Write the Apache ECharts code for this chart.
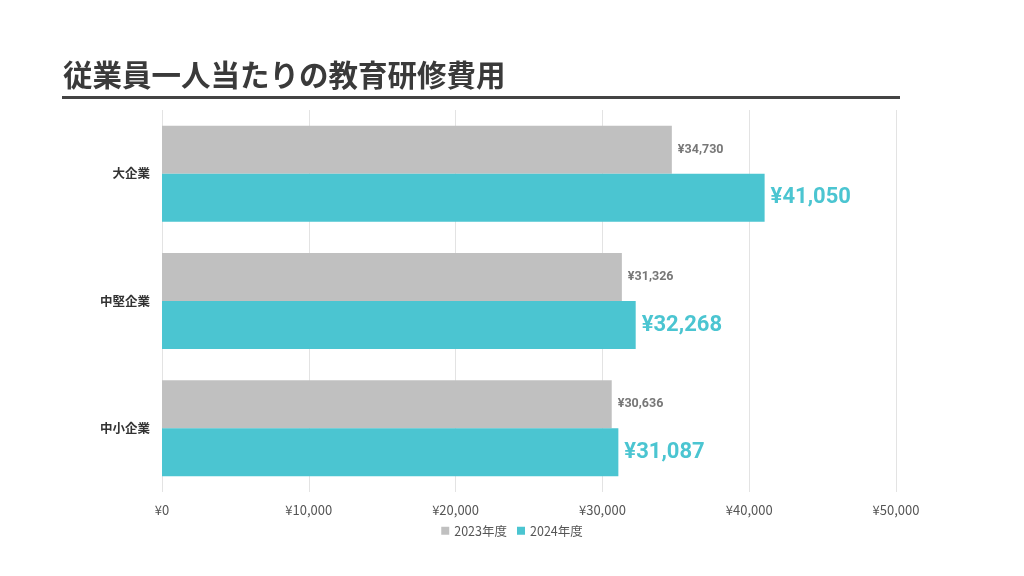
<!DOCTYPE html>
<html><head><meta charset="utf-8">
<script src="https://cdn.jsdelivr.net/npm/echarts@6/dist/echarts.min.js"></script>
<style>html,body{margin:0;padding:0;background:#fff}#c{width:1024px;height:576px}</style>
</head><body><div id="c"></div>
<script>
const categories = ['大企業', '中堅企業', '中小企業'];
const series2023 = [34730, 31326, 30636];
const series2024 = [41050, 32268, 31087];
const seriesNames = ['2023年度', '2024年度'];
const titleText = '従業員一人当たりの教育研修費用';

const yen = v => '¥' + v.toLocaleString('en-US');
const chart = echarts.init(document.getElementById('c'));
chart.setOption({
  animation: false,
  backgroundColor: '#fff',
  title: {
    text: titleText, left: 58, top: 55,
    textStyle: { fontFamily: 'Noto Sans CJK JP', fontSize: 29.5, fontWeight: 'bold', color: '#3a3a3a' }
  },
  graphic: [{ type: 'rect', shape: { x: 62, y: 96, width: 838, height: 3 }, style: { fill: '#444' } }],
  legend: {
    data: seriesNames, bottom: 34, left: 'center', icon: 'rect', itemWidth: 8, itemHeight: 8, itemGap: 10,
    textStyle: { fontFamily: 'Noto Sans CJK JP', fontSize: 12.5, color: '#555' }
  },
  grid: { left: 162, right: 128, top: 110, bottom: 84 },
  xAxis: {
    type: 'value', min: 0, max: 50000, interval: 10000,
    axisLine: { show: false }, axisTick: { show: false },
    splitLine: { lineStyle: { color: '#e3e3e3' } },
    axisLabel: { formatter: yen, margin: 12, color: '#555', fontFamily: 'Noto Sans CJK JP', fontSize: 13 }
  },
  yAxis: {
    type: 'category', data: categories, inverse: true,
    axisLine: { show: false }, axisTick: { show: false },
    axisLabel: { margin: 12, color: '#333', fontWeight: 'bold', fontFamily: 'Noto Sans CJK JP', fontSize: 12.5 }
  },
  series: [
    { name: seriesNames[0], type: 'bar', data: series2023, barWidth: 48, barGap: '0%',
      itemStyle: { color: '#c0c0c0' },
      label: { show: true, position: 'right', distance: 6, formatter: p => yen(p.value),
        color: '#777', fontWeight: 'bold', fontSize: 12.5, fontFamily: 'Roboto' } },
    { name: seriesNames[1], type: 'bar', data: series2024, barWidth: 48, barGap: '0%',
      itemStyle: { color: '#4bc5d1' },
      label: { show: true, position: 'right', distance: 6, formatter: p => yen(p.value),
        color: '#4bc5d1', fontWeight: 'bold', fontSize: 22, fontFamily: 'Roboto' } }
  ]
});
</script></body></html>
